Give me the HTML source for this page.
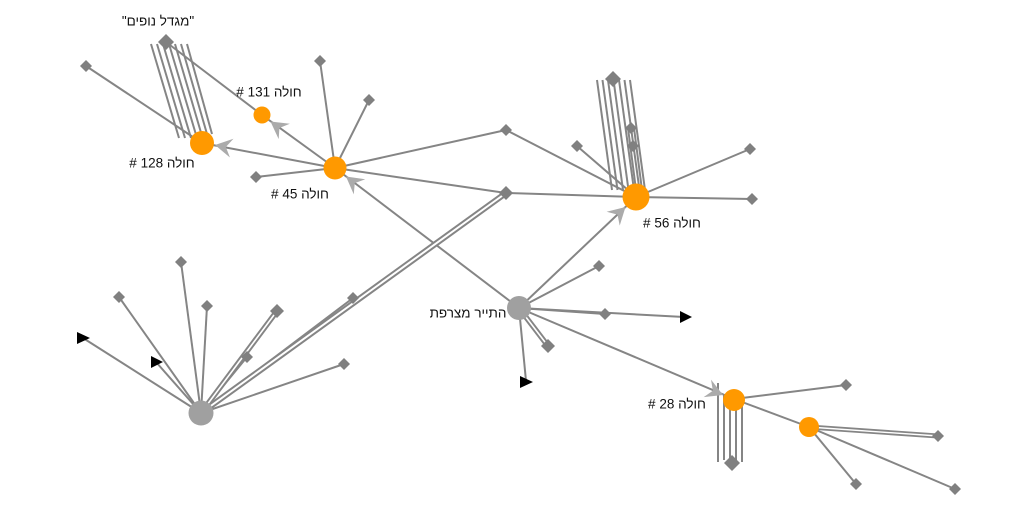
<!DOCTYPE html>
<html><head><meta charset="utf-8"><style>
html,body{margin:0;padding:0;background:#fff;}
#c{position:relative;width:1023px;height:507px;overflow:hidden;background:#fff;}
svg{position:absolute;left:0;top:0;}
.l{position:absolute;transform:translate(-50%,-50%);font-family:"Liberation Sans","DejaVu Sans",sans-serif;font-size:13.5px;line-height:1;white-space:nowrap;color:#111;}
</style></head><body><div id="c">
<svg width="1023" height="507" viewBox="0 0 1023 507" xmlns="http://www.w3.org/2000/svg">
<g stroke="#858585" stroke-width="2" fill="none">
<line x1="86" y1="66" x2="202" y2="143"/>
<line x1="166" y1="42" x2="262" y2="115"/>
<line x1="151" y1="44" x2="179" y2="138"/>
<line x1="157" y1="44" x2="185" y2="138"/>
<line x1="163" y1="44" x2="191" y2="138"/>
<line x1="169" y1="44" x2="197" y2="138"/>
<line x1="175" y1="44" x2="202" y2="136"/>
<line x1="181" y1="44" x2="207" y2="134"/>
<line x1="187" y1="44" x2="212" y2="134"/>
<line x1="335" y1="168" x2="202" y2="143"/>
<line x1="335" y1="168" x2="262" y2="115"/>
<line x1="335" y1="168" x2="320" y2="61"/>
<line x1="335" y1="168" x2="369" y2="100"/>
<line x1="335" y1="168" x2="256" y2="177"/>
<line x1="335" y1="168" x2="506" y2="130"/>
<line x1="335" y1="168" x2="506" y2="193"/>
<line x1="519" y1="308" x2="335" y2="168"/>
<line x1="506" y1="130" x2="636" y2="197"/>
<line x1="506" y1="193" x2="636" y2="197"/>
<line x1="636" y1="197" x2="577" y2="146"/>
<line x1="636" y1="197" x2="750" y2="149"/>
<line x1="636" y1="197" x2="752" y2="199"/>
<line x1="519" y1="308" x2="636" y2="197"/>
<line x1="597" y1="80" x2="612" y2="190"/>
<line x1="602.5" y1="80" x2="617.5" y2="190"/>
<line x1="608" y1="80" x2="623" y2="190"/>
<line x1="613.5" y1="80" x2="628.5" y2="190"/>
<line x1="619" y1="80" x2="634" y2="190"/>
<line x1="624.5" y1="80" x2="639.5" y2="190"/>
<line x1="630" y1="80" x2="645" y2="190"/>
<line x1="628" y1="128" x2="636" y2="190"/>
<line x1="634" y1="128" x2="642" y2="190"/>
<line x1="519" y1="308" x2="599" y2="266"/>
<line x1="519" y1="308" x2="605" y2="314"/>
<line x1="519" y1="308" x2="684" y2="317"/>
<line x1="519" y1="308" x2="526" y2="381"/>
<line x1="519" y1="308" x2="734" y2="399"/>
<line x1="734" y1="399" x2="846" y2="385"/>
<line x1="734" y1="399" x2="809" y2="427"/>
<line x1="809" y1="427" x2="856" y2="484"/>
<line x1="809" y1="427" x2="955" y2="489"/>
<line x1="718" y1="383" x2="718" y2="462"/>
<line x1="724" y1="395" x2="724" y2="460"/>
<line x1="730" y1="398" x2="730" y2="458"/>
<line x1="736" y1="398" x2="736" y2="460"/>
<line x1="742" y1="395" x2="742" y2="462"/>
<line x1="201" y1="413" x2="181" y2="262"/>
<line x1="201" y1="413" x2="119" y2="297"/>
<line x1="201" y1="413" x2="207" y2="306"/>
<line x1="201" y1="413" x2="247" y2="357"/>
<line x1="201" y1="413" x2="353" y2="298"/>
<line x1="201" y1="413" x2="344" y2="364"/>
<line x1="201" y1="413" x2="83" y2="338"/>
<line x1="201" y1="413" x2="156" y2="362"/>
</g>
<g fill="none">
<line x1="201" y1="413" x2="506" y2="193" stroke="#858585" stroke-width="6"/>
<line x1="201" y1="413" x2="506" y2="193" stroke="#fff" stroke-width="2"/>
<line x1="201" y1="413" x2="277" y2="311" stroke="#858585" stroke-width="5.5"/>
<line x1="201" y1="413" x2="277" y2="311" stroke="#fff" stroke-width="1.6"/>
<line x1="519" y1="308" x2="548" y2="346" stroke="#858585" stroke-width="5.5"/>
<line x1="519" y1="308" x2="548" y2="346" stroke="#fff" stroke-width="1.6"/>
<line x1="809" y1="427" x2="938" y2="436" stroke="#858585" stroke-width="5"/>
<line x1="809" y1="427" x2="938" y2="436" stroke="#fff" stroke-width="1.4"/>
</g>
<g fill="#808080">
<path d="M86,60 L92,66 L86,72 L80,66 Z"/>
<path d="M166,34 L174,42 L166,50 L158,42 Z"/>
<path d="M320,55 L326,61 L320,67 L314,61 Z"/>
<path d="M369,94 L375,100 L369,106 L363,100 Z"/>
<path d="M256,171 L262,177 L256,183 L250,177 Z"/>
<path d="M506,124 L512,130 L506,136 L500,130 Z"/>
<path d="M506,186 L513,193 L506,200 L499,193 Z"/>
<path d="M577,140 L583,146 L577,152 L571,146 Z"/>
<path d="M750,143 L756,149 L750,155 L744,149 Z"/>
<path d="M752,193 L758,199 L752,205 L746,199 Z"/>
<path d="M613,71 L621,79 L613,87 L605,79 Z"/>
<path d="M631,122 L637,128 L631,134 L625,128 Z"/>
<path d="M633,140 L639,146 L633,152 L627,146 Z"/>
<path d="M599,260 L605,266 L599,272 L593,266 Z"/>
<path d="M605,308 L611,314 L605,320 L599,314 Z"/>
<path d="M548,339 L555,346 L548,353 L541,346 Z"/>
<path d="M846,379 L852,385 L846,391 L840,385 Z"/>
<path d="M938,430 L944,436 L938,442 L932,436 Z"/>
<path d="M856,478 L862,484 L856,490 L850,484 Z"/>
<path d="M955,483 L961,489 L955,495 L949,489 Z"/>
<path d="M732,455 L740,463 L732,471 L724,463 Z"/>
<path d="M181,256 L187,262 L181,268 L175,262 Z"/>
<path d="M119,291 L125,297 L119,303 L113,297 Z"/>
<path d="M207,300 L213,306 L207,312 L201,306 Z"/>
<path d="M277,304 L284,311 L277,318 L270,311 Z"/>
<path d="M247,351 L253,357 L247,363 L241,357 Z"/>
<path d="M353,292 L359,298 L353,304 L347,298 Z"/>
<path d="M344,358 L350,364 L344,370 L338,364 Z"/>
</g>
<g fill="#000">
<path d="M77,332 L90,338 L77,344 Z"/>
<path d="M151,356 L163,362 L151,368 Z"/>
<path d="M680,311 L692,317 L680,323 Z"/>
<path d="M520,376 L533,382 L520,388 Z"/>
</g>
<circle cx="202" cy="143" r="12" fill="#ff9900"/>
<circle cx="262" cy="115" r="8.5" fill="#ff9900"/>
<circle cx="335" cy="168" r="11.5" fill="#ff9900"/>
<circle cx="636" cy="197" r="13.5" fill="#ff9900"/>
<circle cx="519" cy="308" r="12" fill="#a0a0a0"/>
<circle cx="201" cy="413" r="12.5" fill="#a0a0a0"/>
<circle cx="734" cy="400" r="11" fill="#ff9900"/>
<circle cx="809" cy="427" r="10" fill="#ff9900"/>
<g fill="#ababab">
<path transform="translate(215,145) rotate(190.6)" d="M0,0 L-17,-9.5 L-11,0 L-17,9.5 Z"/>
<path transform="translate(270.5,121.5) rotate(216)" d="M0,0 L-17,-9.5 L-11,0 L-17,9.5 Z"/>
<path transform="translate(346,176.5) rotate(217.3)" d="M0,0 L-17,-9.5 L-11,0 L-17,9.5 Z"/>
<path transform="translate(625.5,207) rotate(-43.5)" d="M0,0 L-17,-9.5 L-11,0 L-17,9.5 Z"/>
<path transform="translate(723,395) rotate(22.9)" d="M0,0 L-17,-9.5 L-11,0 L-17,9.5 Z"/>
</g>
</svg>
<div class="l" dir="rtl" style="left:158px;top:21px;">"מגדל נופים"</div>
<div class="l" dir="rtl" style="left:269px;top:92px;">חולה 131 #</div>
<div class="l" dir="rtl" style="left:162px;top:163px;">חולה 128 #</div>
<div class="l" dir="rtl" style="left:300px;top:194px;">חולה 45 #</div>
<div class="l" dir="rtl" style="left:672px;top:223px;">חולה 56 #</div>
<div class="l" dir="rtl" style="left:468px;top:313px;">התייר מצרפת</div>
<div class="l" dir="rtl" style="left:677px;top:404px;">חולה 28 #</div>
</div></body></html>
